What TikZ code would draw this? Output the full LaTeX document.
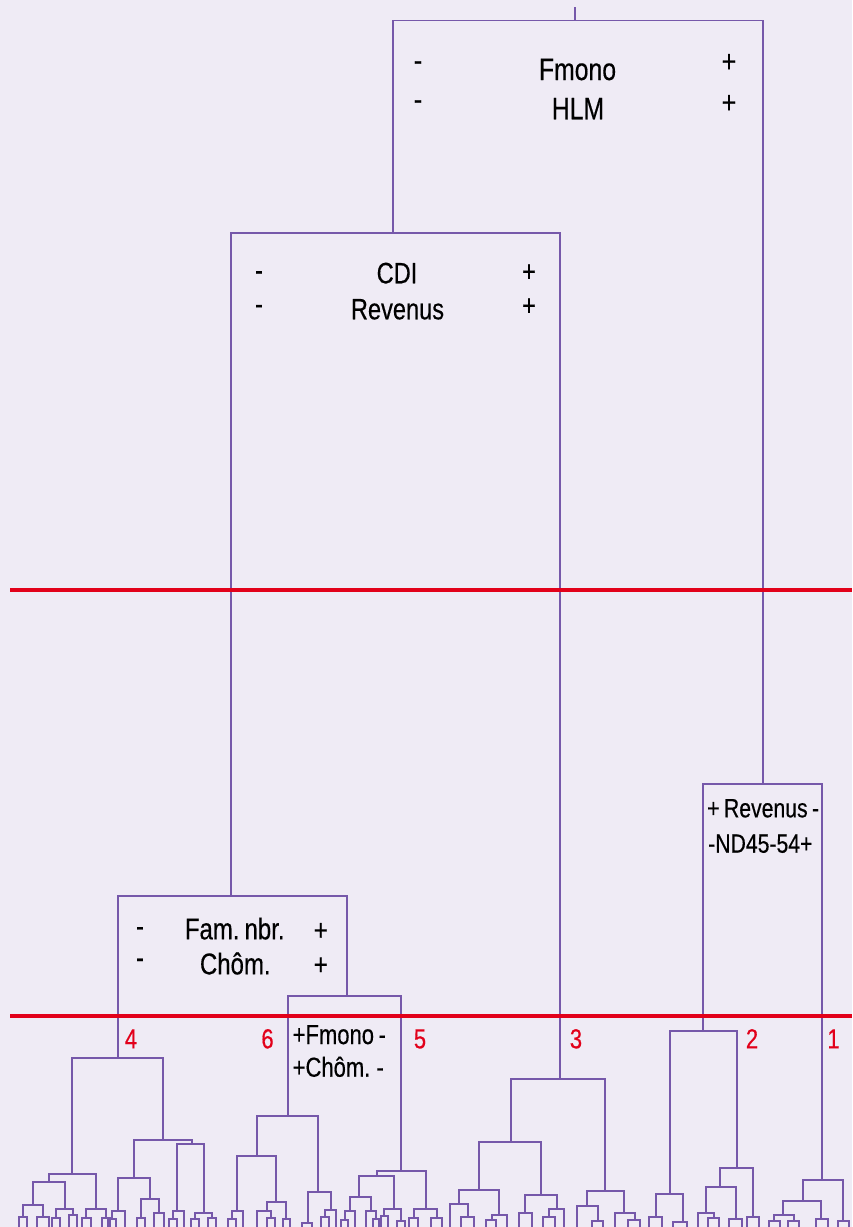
\documentclass[tikz,border=0pt]{standalone}
\usepackage{fontspec}
\setmainfont{Liberation Sans}[FakeStretch=0.8,FakeBold=0.4]
\definecolor{bg}{RGB}{239,235,245}
\definecolor{pu}{RGB}{118,88,170}
\definecolor{rd}{RGB}{226,0,26}
\newcommand\dbr[5]{\draw[den] (#1,#4)--(#1,#3)--(#2,#3)--(#2,#5);}
\newcommand\dlf[3]{\dbr{#1}{#2}{#3}{1230}{1230}}
\begin{document}
\begin{tikzpicture}[x=1pt,y=-1pt,
  box/.style={draw=pu,line width=1.1pt},
  den/.style={draw=pu,line width=1.6pt,line join=miter},
  wrd/.style={inner sep=0pt,anchor=base},
  sgn/.style={inner sep=0pt,anchor=center},
  redline/.style={draw=rd,line width=4.5pt},
  num/.style={inner sep=0pt,anchor=base,text=rd,font=\fontsize{27.5}{27.5}\selectfont}]
\useasboundingbox (0,0) rectangle (852,1227);
\fill[bg] (0,0) rectangle (852,1227);
\clip (0,0) rectangle (852,1227);

% ---- upper boxes ----
\draw[box] (575,7)--(575,20.7);
\draw[box] (393,233)--(393,20.7)--(763,20.7)--(763,784);
\draw[box] (231,896)--(231,233)--(560,233)--(560,1079);
\draw[box] (703,1031)--(703,784)--(822,784)--(822,1180);
\draw[box] (118,1058)--(118,896)--(347,896)--(347,996);
\draw[box] (288,1116)--(288,996)--(401,996)--(401,1171);

% ---- cluster 4 ----
\dbr{72}{163}{1058}{1174}{1140}
\dbr{49}{96}{1174}{1182}{1209}
\dbr{33}{65}{1182}{1205}{1209}
\dbr{23}{43}{1205}{1217}{1217}
\dlf{19}{27}{1217}
\dlf{37}{49}{1217}
\dbr{56}{73}{1209}{1218}{1215}
\dlf{52}{60}{1218}
\dlf{69}{77}{1215}
\dbr{86}{106}{1209}{1218}{1218}
\dlf{82}{91}{1218}
\dlf{102}{110}{1218}
\dbr{134}{192}{1140}{1178}{1144}
\dbr{118}{150}{1178}{1211}{1199}
\dbr{112}{125}{1211}{1219}{1230}
\dlf{108}{116}{1219}
\dbr{141}{159}{1199}{1218}{1213}
\dlf{137}{145}{1218}
\dlf{154}{164}{1213}
\dbr{177}{204}{1144}{1211}{1213}
\dbr{173}{184}{1211}{1219}{1230}
\dlf{169}{177}{1219}
\dbr{195}{212}{1213}{1219}{1218}
\dlf{191}{199}{1219}
\dlf{208}{216}{1218}

% ---- cluster 6 ----
\dbr{257}{318}{1116}{1156}{1192}
\dbr{237}{276}{1156}{1211}{1202}
\dbr{232}{243}{1211}{1219}{1230}
\dlf{228}{236}{1219}
\dbr{267}{286}{1202}{1211}{1219}
\dbr{257}{271}{1211}{1230}{1218}
\dlf{267}{275}{1218}
\dlf{283}{290}{1219}
\dbr{308}{331}{1192}{1223}{1210}
\dlf{302}{312}{1223}
\dbr{325}{336}{1210}{1217}{1230}
\dlf{321}{329}{1217}

% ---- cluster 5 ----
\dbr{377}{426}{1171}{1176}{1209}
\dbr{359}{394}{1176}{1197}{1209}
\dbr{350}{371}{1197}{1211}{1211}
\dbr{345}{355}{1211}{1220}{1230}
\dlf{341}{348}{1220}
\dbr{366}{376}{1211}{1230}{1219}
\dlf{373}{379}{1219}
\dbr{384}{401}{1209}{1216}{1221}
\dlf{381}{388}{1216}
\dlf{397}{405}{1221}
\dbr{414}{437}{1209}{1218}{1218}
\dlf{409}{418}{1218}
\dlf{431}{442}{1218}

% ---- cluster 3 ----
\dbr{511}{605}{1079}{1142}{1191}
\dbr{479}{541}{1142}{1190}{1195}
\dbr{459}{499}{1190}{1204}{1215}
\dbr{450}{468}{1204}{1230}{1217}
\dlf{461}{474}{1217}
\dbr{492}{507}{1215}{1220}{1230}
\dlf{486}{496}{1220}
\dbr{525}{557}{1195}{1213}{1209}
\dlf{519}{532}{1213}
\dbr{549}{564}{1209}{1217}{1230}
\dlf{543}{555}{1217}
\dbr{587}{624}{1191}{1206}{1213}
\dbr{577}{598}{1206}{1230}{1221}
\dlf{592}{603}{1221}
\dbr{615}{635}{1213}{1230}{1220}
\dlf{628}{640}{1220}

% ---- cluster 2 ----
\dbr{670}{737}{1031}{1194}{1168}
\dbr{656}{683}{1194}{1217}{1222}
\dlf{649}{662}{1217}
\dlf{673}{687}{1222}
\dbr{720}{753}{1168}{1187}{1217}
\dbr{706}{736}{1187}{1213}{1219}
\dbr{698}{714}{1213}{1230}{1218}
\dlf{708}{719}{1218}
\dlf{729}{742}{1219}
\dlf{747}{759}{1217}

% ---- cluster 1 ----
\dbr{803}{843}{1180}{1201}{1221}
\dbr{783}{821}{1201}{1215}{1219}
\dbr{774}{794}{1215}{1221}{1221}
\dlf{769}{780}{1221}
\dlf{788}{799}{1221}
\dlf{816}{828}{1219}
\dlf{838}{849}{1221}

% ---- red cut lines ----
\draw[redline] (10,590)--(852,590);
\draw[redline] (10,1016)--(852,1016);

% ---- texts ----
\begin{scope}[font=\fontsize{31}{31}\selectfont]
\node[wrd] (t1) at (577.5,80) {Fmono};
\node[wrd] (t2) at (578,119.3) {HLM};
\node[sgn] (t1m) at (418,66) {-};
\node[sgn] (t2m) at (418,105) {-};
\node[sgn] (t1p) at (729,63) {+};
\node[sgn] (t2p) at (729,104) {+};
\end{scope}
\begin{scope}[font=\fontsize{29.5}{29.5}\selectfont]
\node[wrd] (c1) at (397,283.3) {CDI};
\node[wrd] (c2) at (397.5,319.3) {Revenus};
\node[sgn] (c1m) at (259,275.7) {-};
\node[sgn] (c2m) at (259,309.5) {-};
\node[sgn] (c1p) at (529,273) {+};
\node[sgn] (c2p) at (529,307) {+};
\end{scope}
\begin{scope}[font=\fontsize{30}{30}\selectfont]
\node[wrd] (f1) at (234.7,939.3) {Fam.\,nbr.};
\node[wrd] (f2) at (235.3,974.3) {Chôm.};
\node[sgn] (f1m) at (140,931.7) {-};
\node[sgn] (f2m) at (140,963.3) {-};
\node[sgn] (f1p) at (320.7,931.7) {+};
\node[sgn] (f2p) at (320.7,966) {+};
\end{scope}
\begin{scope}[font=\fontsize{27.5}{27.5}\selectfont]
\node[wrd,anchor=base west] (s1) at (292.5,1044) {+Fmono\,-};
\node[wrd,anchor=base west] (s2) at (292.5,1076.7) {+Chôm.\ -};
\end{scope}
\begin{scope}[font=\fontsize{26.5}{26.5}\selectfont]
\node[wrd,anchor=base west] (r1) at (707,817.3) {+\,Revenus\,-};
\node[wrd,anchor=base west] (r2) at (708,852.7) {-ND45-54+};
\end{scope}
\node[num] (n4) at (131,1048.3) {4};
\node[num] (n6) at (267.5,1048.3) {6};
\node[num] (n5) at (420,1048.3) {5};
\node[num] (n3) at (576,1048.3) {3};
\node[num] (n2) at (752,1048.3) {2};
\node[num] (n1) at (833.5,1048.3) {1};
\end{tikzpicture}
\end{document}
